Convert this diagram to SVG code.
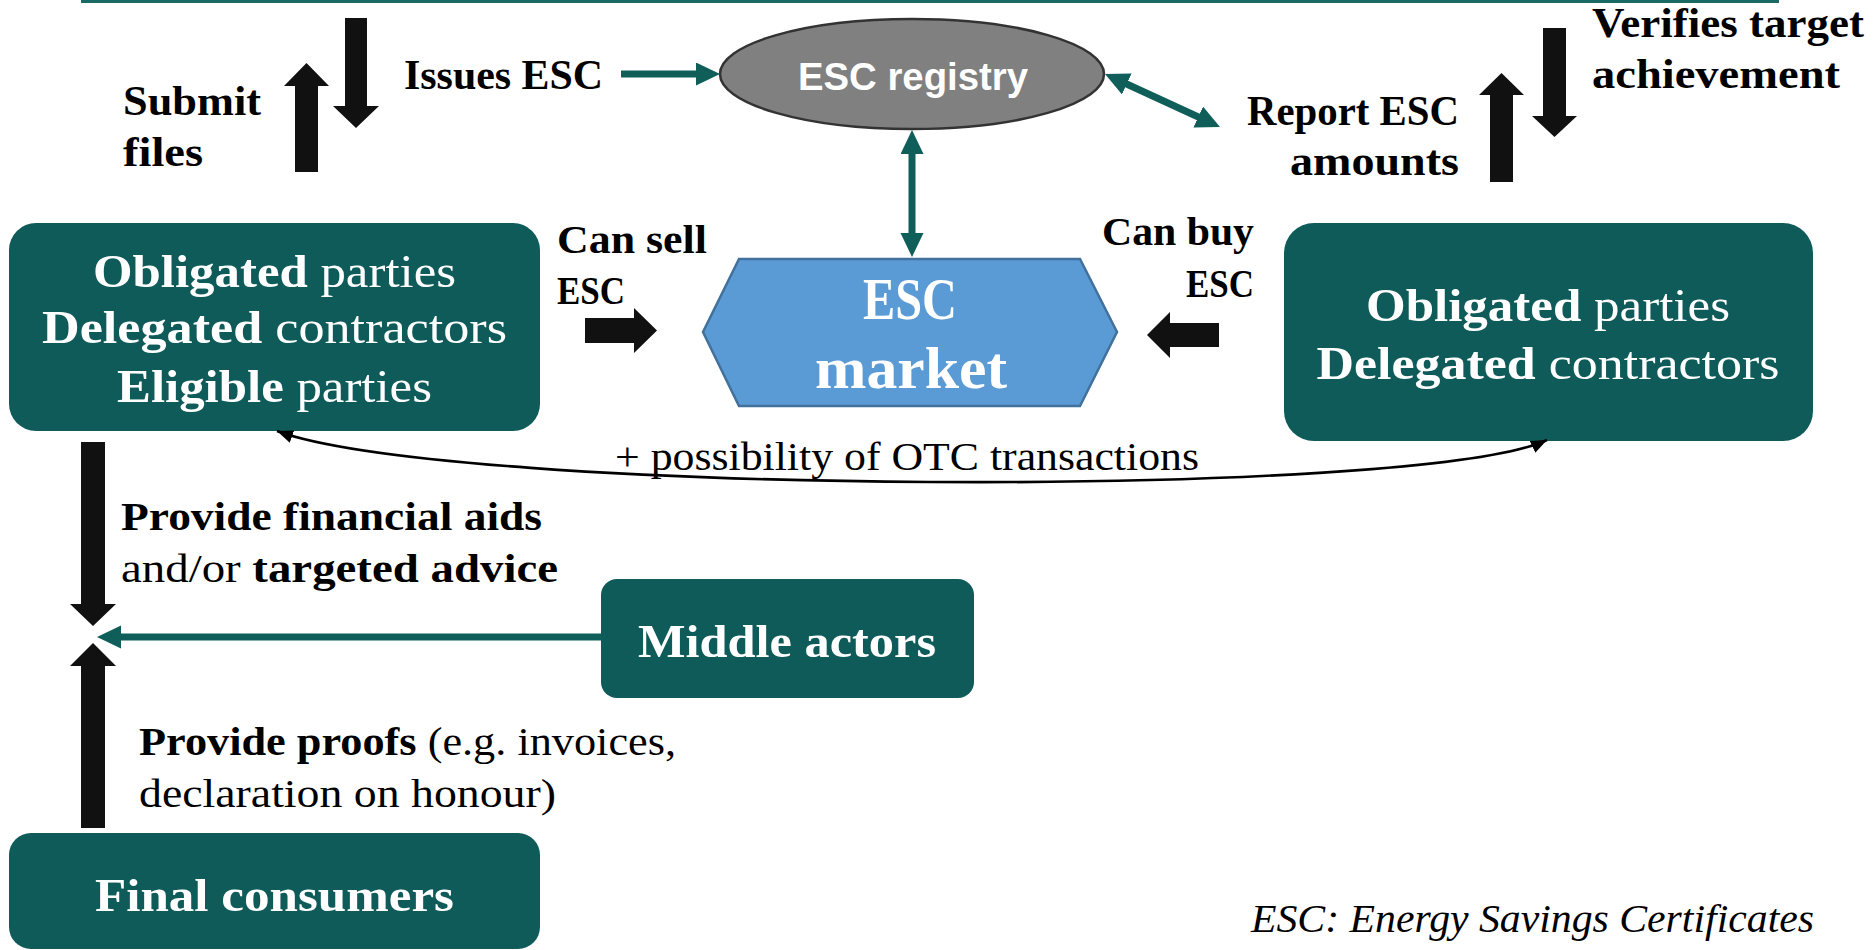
<svg xmlns="http://www.w3.org/2000/svg" width="1876" height="950" viewBox="0 0 1876 950">
<style>
.bg{fill:#ffffff}
.box{fill:#0f5b5a}
.blk{fill:#111111}
.tl{stroke:#0f5e5a;stroke-width:7;fill:none}
.otc{stroke:#000;stroke-width:2.6;fill:none}
.lbl{font-family:"Liberation Serif",serif;font-weight:700;font-size:42px;fill:#000}
.lbl2{font-family:"Liberation Serif",serif;font-size:40px;fill:#000}
.wt{font-family:"Liberation Serif",serif;font-size:47px;fill:#fff}
.b{font-weight:700}
.r{font-weight:400}
</style>
<defs>
<marker id="th" markerUnits="userSpaceOnUse" markerWidth="26" markerHeight="24" refX="2" refY="11.5" orient="auto-start-reverse" viewBox="0 0 26 24">
<path d="M0,0 L24,11.5 L0,23 z" fill="#0f5e5a"/>
</marker>
<marker id="kh" markerUnits="userSpaceOnUse" markerWidth="18" markerHeight="14" refX="16" refY="6.5" orient="auto-start-reverse" viewBox="0 0 18 14">
<path d="M0,0 L16,6.5 L0,13 z" fill="#000"/>
</marker>
</defs>
<rect class="bg" x="0" y="0" width="1876" height="950"/>
<line x1="81" y1="1.5" x2="1779" y2="1.5" stroke="#1a6b66" stroke-width="3"/>

<g id="registry">
<ellipse cx="912" cy="74" rx="192" ry="55" fill="#808080" stroke="#333" stroke-width="2.5"/>
<text x="913" y="90" text-anchor="middle" font-family="'Liberation Sans',Arial,sans-serif" font-weight="700" font-size="38" fill="#fff" textLength="230" lengthAdjust="spacingAndGlyphs">ESC registry</text>
</g>

<g id="market">
<polygon points="739,259 1080,259 1117,332 1080,406 739,406 703,332" fill="#5b9bd5" stroke="#41719c" stroke-width="2.5"/>
<text class="wt b" x="910" y="319" text-anchor="middle" style="font-size:60px" textLength="94" lengthAdjust="spacingAndGlyphs">ESC</text>
<text class="wt b" x="911" y="388" text-anchor="middle" style="font-size:60px" textLength="192" lengthAdjust="spacingAndGlyphs">market</text>
</g>

<g id="left-parties">
<rect class="box" x="9" y="223" width="531" height="208" rx="27"/>
<text class="wt" x="274.5" y="287" text-anchor="middle" textLength="363" lengthAdjust="spacingAndGlyphs"><tspan class="b">Obligated</tspan> parties</text>
<text class="wt" x="274.5" y="343" text-anchor="middle" textLength="465" lengthAdjust="spacingAndGlyphs"><tspan class="b">Delegated</tspan> contractors</text>
<text class="wt" x="274.5" y="402" text-anchor="middle" textLength="315" lengthAdjust="spacingAndGlyphs"><tspan class="b">Eligible</tspan> parties</text>
</g>

<g id="right-parties">
<rect class="box" x="1284" y="223" width="529" height="218" rx="30"/>
<text class="wt" x="1548" y="321" text-anchor="middle" textLength="364" lengthAdjust="spacingAndGlyphs"><tspan class="b">Obligated</tspan> parties</text>
<text class="wt" x="1548" y="379" text-anchor="middle" textLength="463" lengthAdjust="spacingAndGlyphs"><tspan class="b">Delegated</tspan> contractors</text>
</g>

<g id="middle-actors">
<rect class="box" x="601" y="579" width="373" height="119" rx="16"/>
<text class="wt b" x="787" y="657" text-anchor="middle" textLength="298" lengthAdjust="spacingAndGlyphs">Middle actors</text>
</g>

<g id="final-consumers">
<rect class="box" x="9" y="833" width="531" height="116" rx="22"/>
<text class="wt b" x="274.5" y="911" text-anchor="middle" textLength="359" lengthAdjust="spacingAndGlyphs">Final consumers</text>
</g>

<g id="connectors">
<line class="tl" x1="621" y1="74" x2="698" y2="74" marker-end="url(#th)"/>
<line class="tl" x1="912" y1="152" x2="912" y2="235" marker-start="url(#th)" marker-end="url(#th)"/>
<line class="tl" x1="1125" y1="83.2" x2="1200" y2="117.8" marker-start="url(#th)" marker-end="url(#th)"/>
<line class="tl" x1="601" y1="637" x2="119" y2="637" marker-end="url(#th)"/>
<path class="otc" d="M277,431 C450,495 1420,500 1547,440" marker-start="url(#kh)" marker-end="url(#kh)"/>
<polygon class="blk" points="295,172 318,172 318,86 329,86 306.5,63 284,86 295,86"/>
<polygon class="blk" points="345,18 367,18 367,106 379,106 356,128 333,106 345,106"/>
<polygon class="blk" points="1490,182 1513,182 1513,95 1524,95 1501.5,73 1479,95 1490,95"/>
<polygon class="blk" points="1543,28 1566,28 1566,116 1577,116 1554.5,137 1532,116 1543,116"/>
<polygon class="blk" points="585,318 634,318 634,308 657,330.5 634,353 634,343 585,343"/>
<polygon class="blk" points="1219,323 1170,323 1170,312 1147,335 1170,358 1170,347 1219,347"/>
<polygon class="blk" points="81,442 105,442 105,604 116,604 93,626 70,604 81,604"/>
<polygon class="blk" points="81,828 105,828 105,666 116,666 93,643 70,666 81,666"/>
</g>

<g id="labels">
<text class="lbl" x="123" y="115" textLength="138" lengthAdjust="spacingAndGlyphs">Submit</text>
<text class="lbl" x="123" y="166" textLength="80" lengthAdjust="spacingAndGlyphs">files</text>
<text class="lbl" x="404" y="89" textLength="199" lengthAdjust="spacingAndGlyphs">Issues ESC</text>
<text class="lbl" x="1592" y="37" textLength="272" lengthAdjust="spacingAndGlyphs">Verifies target</text>
<text class="lbl" x="1592" y="88" textLength="248" lengthAdjust="spacingAndGlyphs">achievement</text>
<text class="lbl" x="1459" y="125" text-anchor="end" textLength="212" lengthAdjust="spacingAndGlyphs">Report ESC</text>
<text class="lbl" x="1459" y="175" text-anchor="end" textLength="169" lengthAdjust="spacingAndGlyphs">amounts</text>
<text class="lbl" x="557" y="253" style="font-size:41px" textLength="150" lengthAdjust="spacingAndGlyphs">Can sell</text>
<text class="lbl" x="557" y="304" style="font-size:41px" textLength="68" lengthAdjust="spacingAndGlyphs">ESC</text>
<text class="lbl" x="1254" y="245" style="font-size:41px" text-anchor="end" textLength="152" lengthAdjust="spacingAndGlyphs">Can buy</text>
<text class="lbl" x="1254" y="297" style="font-size:41px" text-anchor="end" textLength="68" lengthAdjust="spacingAndGlyphs">ESC</text>
<text class="lbl2" x="615" y="470" textLength="584" lengthAdjust="spacingAndGlyphs">+ possibility of OTC transactions</text>
<text class="lbl" x="121" y="530" style="font-size:40px" textLength="421" lengthAdjust="spacingAndGlyphs">Provide financial aids</text>
<text class="lbl2" x="121" y="582" textLength="437" lengthAdjust="spacingAndGlyphs">and/or <tspan class="b">targeted advice</tspan></text>
<text class="lbl2" x="139" y="755" textLength="537" lengthAdjust="spacingAndGlyphs"><tspan class="b">Provide proofs</tspan> (e.g. invoices,</text>
<text class="lbl2" x="139" y="807" textLength="417" lengthAdjust="spacingAndGlyphs">declaration on honour)</text>
<text class="lbl2" x="1251" y="932" font-style="italic" textLength="563" lengthAdjust="spacingAndGlyphs">ESC: Energy Savings Certificates</text>
</g>
</svg>
